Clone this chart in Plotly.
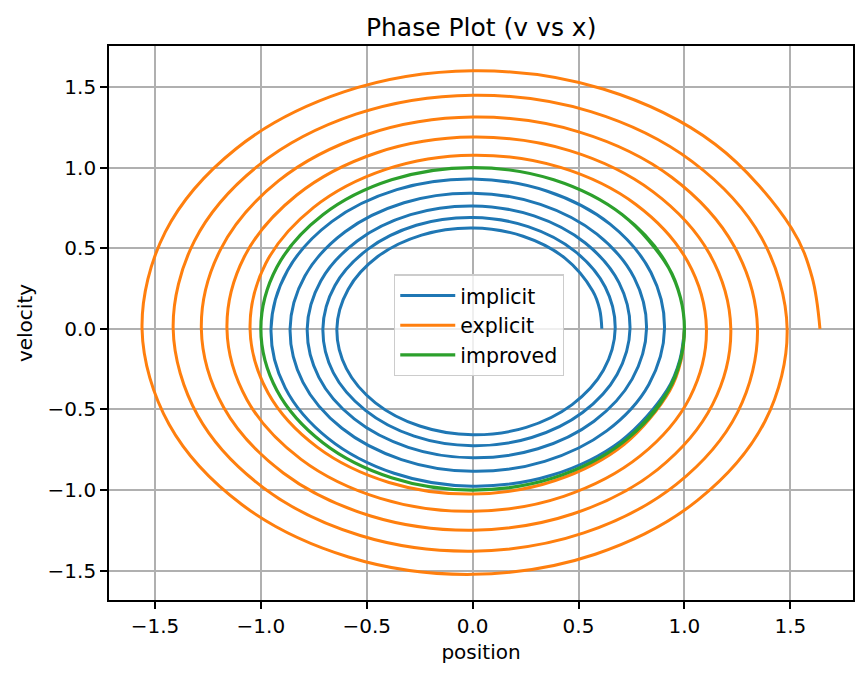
import plotly.graph_objects as go

# Phase-space trajectories (x = position, v = velocity),
# sampled every sixteenth of a turn (a little denser at both ends), five turns each.
implicit_x = [1.000, 0.978, 0.918, 0.698, 0.376, 0.000, -0.371, -0.681, -0.885,
              -0.952, -0.874, -0.665, -0.358, 0.000, 0.353, 0.649, 0.842,
              0.906, 0.832, 0.633, 0.340, 0.000, -0.336, -0.617, -0.801,
              -0.862, -0.792, -0.602, -0.324, 0.000, 0.320, 0.587, 0.763,
              0.821, 0.753, 0.573, 0.308, 0.000, -0.304, -0.559, -0.726,
              -0.781, -0.717, -0.545, -0.293, 0.000, 0.290, 0.532, 0.691,
              0.743, 0.682, 0.519, 0.279, 0.000, -0.276, -0.506, -0.658,
              -0.707, -0.650, -0.494, -0.266, 0.000, 0.262, 0.482, 0.626,
              0.673, 0.618, 0.470, 0.253, 0.000, -0.250, -0.459, -0.596,
              -0.641, -0.588, -0.448, -0.241, 0.000, 0.238, 0.437, 0.567,
              0.600, 0.610]
implicit_v = [0.000, -0.194, -0.380, -0.698, -0.907, -0.976, -0.896, -0.681, -0.366,
              0.000, 0.362, 0.665, 0.863, 0.929, 0.853, 0.649, 0.349,
              0.000, -0.345, -0.633, -0.822, -0.884, -0.811, -0.617, -0.332,
              0.000, 0.328, 0.602, 0.782, 0.841, 0.772, 0.587, 0.316,
              0.000, -0.312, -0.573, -0.744, -0.800, -0.735, -0.559, -0.301,
              0.000, 0.297, 0.545, 0.708, 0.762, 0.700, 0.532, 0.286,
              0.000, -0.283, -0.519, -0.674, -0.725, -0.666, -0.506, -0.272,
              0.000, 0.269, 0.494, 0.642, 0.690, 0.634, 0.482, 0.259,
              0.000, -0.256, -0.470, -0.611, -0.657, -0.603, -0.459, -0.247,
              0.000, 0.244, 0.448, 0.581, 0.625, 0.574, 0.437, 0.235,
              0.119, 0.000]

explicit_x = [1.000, 0.984, 0.930, 0.716, 0.390, 0.000, -0.395, -0.734, -0.965,
              -1.051, -0.977, -0.752, -0.410, 0.000, 0.415, 0.771, 1.014,
              1.104, 1.026, 0.790, 0.430, 0.000, -0.436, -0.810, -1.065,
              -1.160, -1.078, -0.830, -0.452, 0.000, 0.458, 0.851, 1.119,
              1.219, 1.133, 0.873, 0.475, 0.000, -0.481, -0.894, -1.176,
              -1.281, -1.190, -0.917, -0.499, 0.000, 0.505, 0.940, 1.235,
              1.345, 1.251, 0.963, 0.525, 0.000, -0.531, -0.987, -1.298,
              -1.414, -1.314, -1.012, -0.551, 0.000, 0.558, 1.037, 1.364,
              1.485, 1.381, 1.063, 0.579, 0.000, -0.586, -1.090, -1.433,
              -1.561, -1.451, -1.117, -0.608, 0.000, 0.616, 1.145, 1.506,
              1.603, 1.640]
explicit_v = [0.000, -0.196, -0.385, -0.716, -0.941, -1.025, -0.953, -0.734, -0.400,
              0.000, 0.405, 0.752, 0.989, 1.077, 1.001, 0.771, 0.420,
              0.000, -0.425, -0.790, -1.039, -1.132, -1.052, -0.810, -0.441,
              0.000, 0.447, 0.830, 1.092, 1.189, 1.105, 0.851, 0.464,
              0.000, -0.469, -0.873, -1.147, -1.249, -1.161, -0.894, -0.487,
              0.000, 0.493, 0.917, 1.205, 1.313, 1.220, 0.940, 0.512,
              0.000, -0.518, -0.963, -1.266, -1.379, -1.282, -0.987, -0.538,
              0.000, 0.544, 1.012, 1.331, 1.449, 1.347, 1.037, 0.565,
              0.000, -0.572, -1.063, -1.398, -1.523, -1.415, -1.090, -0.594,
              0.000, 0.601, 1.117, 1.469, 1.600, 1.487, 1.145, 0.624,
              0.319, 0.000]

improved_x = ([1.000, 0.981]
              + [0.924, 0.707, 0.383, 0.000, -0.383, -0.707, -0.924, -1.000,
                 -0.924, -0.707, -0.383, 0.000, 0.383, 0.707, 0.924, 1.000] * 5)
improved_v = ([0.000, -0.195]
              + [-0.383, -0.707, -0.924, -1.000, -0.924, -0.707, -0.383, 0.000,
                 0.383, 0.707, 0.924, 1.000, 0.924, 0.707, 0.383, 0.000] * 5)
improved_x = improved_x[:-1] + [0.981, 1.000]
improved_v = improved_v[:-1] + [0.195, 0.000]

tick_vals = [-1.5, -1.0, -0.5, 0.0, 0.5, 1.0, 1.5]
tick_text = ["\u22121.5", "\u22121.0", "\u22120.5", "0.0", "0.5", "1.0", "1.5"]

FONT = "DejaVu Sans"
SMOOTH = 1.0

fig = go.Figure()
fig.add_trace(go.Scatter(x=implicit_x, y=implicit_v, mode="lines", name="implicit",
                         line=dict(color="#1f77b4", width=3, shape="spline", smoothing=SMOOTH)))
fig.add_trace(go.Scatter(x=explicit_x, y=explicit_v, mode="lines", name="explicit",
                         line=dict(color="#ff7f0e", width=3, shape="spline", smoothing=SMOOTH)))
fig.add_trace(go.Scatter(x=improved_x, y=improved_v, mode="lines", name="improved",
                         line=dict(color="#2ca02c", width=3.2, shape="spline", smoothing=SMOOTH)))

axis_common = dict(
    showline=True, linecolor="black", linewidth=1.7, mirror=True,
    ticks="outside", ticklen=7, tickwidth=1.7, tickcolor="black",
    showgrid=True, gridcolor="#b0b0b0", gridwidth=1.6,
    zeroline=False,
    tickvals=tick_vals, ticktext=tick_text,
    tickfont=dict(family=FONT, size=20, color="black"),
)

fig.update_layout(
    width=867, height=678,
    margin=dict(l=109, r=14, t=46, b=78),
    paper_bgcolor="white", plot_bgcolor="white",
    font=dict(family=FONT, size=20, color="black"),
    title=dict(text="Phase Plot (v vs x)", x=0.555, xanchor="center",
               y=1 - 27 / 678, yanchor="middle",
               font=dict(family=FONT, size=25, color="black")),
    xaxis=dict(range=[-1.717, 1.796],
               title=dict(text="position", font=dict(family=FONT, size=20, color="black"), standoff=8),
               **axis_common),
    yaxis=dict(range=[-1.682, 1.754],
               title=dict(text="velocity", font=dict(family=FONT, size=20, color="black"), standoff=10),
               **axis_common),
    legend=dict(x=0.383, y=0.5876, xanchor="left", yanchor="top",
                bgcolor="rgba(255,255,255,0.8)", bordercolor="#cccccc", borderwidth=1.3,
                font=dict(family=FONT, size=20.5, color="black"), itemwidth=55),
    showlegend=True,
)

fig.write_html("out.html")
